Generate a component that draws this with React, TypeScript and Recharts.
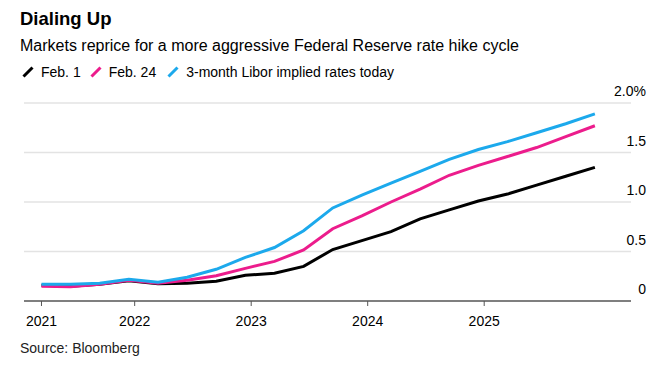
import React from 'react';
import { LineChart, Line, XAxis, YAxis, CartesianGrid } from 'recharts';

// Quarterly 3-month Libor contracts (Mar, Jun, Sep, Dec)
const contracts = [
  'Mar 2021', 'Jun 2021', 'Sep 2021', 'Dec 2021',
  'Mar 2022', 'Jun 2022', 'Sep 2022', 'Dec 2022',
  'Mar 2023', 'Jun 2023', 'Sep 2023', 'Dec 2023',
  'Mar 2024', 'Jun 2024', 'Sep 2024', 'Dec 2024',
  'Mar 2025', 'Jun 2025', 'Sep 2025', 'Dec 2025',
];

const feb1 = [0.16, 0.15, 0.17, 0.205, 0.175, 0.18, 0.2, 0.26, 0.28, 0.35, 0.52, 0.61, 0.7, 0.83, 0.92, 1.01, 1.08, 1.17, 1.26, 1.35];
const feb24 = [0.15, 0.145, 0.17, 0.21, 0.18, 0.21, 0.255, 0.33, 0.4, 0.515, 0.73, 0.86, 1.0, 1.13, 1.27, 1.37, 1.46, 1.55, 1.66, 1.77];
const today = [0.17, 0.17, 0.18, 0.22, 0.19, 0.24, 0.32, 0.44, 0.54, 0.71, 0.94, 1.07, 1.19, 1.31, 1.43, 1.53, 1.61, 1.7, 1.79, 1.89];

const xTicks = [2021.2, 2022, 2023, 2024, 2025];
const yTicks = [0, 0.5, 1.0, 1.5, 2.0];
const yTickLabels = ['0', '0.5', '1.0', '1.5', '2.0%'];

const MONTH_POS: Record<string, number> = { Mar: 0.2, Jun: 0.45, Sep: 0.7, Dec: 0.95 };

const data = contracts.map((c, i) => {
  const [m, y] = c.split(' ');
  return { t: Number(y) + MONTH_POS[m], feb1: feb1[i], feb24: feb24[i], today: today[i] };
});

const FONT = '"Liberation Sans", Arial, Helvetica, sans-serif';
const BLACK = '#000000';
const PINK = '#ec1c8c';
const BLUE = '#1ca9ec';

const YTick = (props: any) => {
  const { y, payload } = props;
  const idx = yTicks.indexOf(payload.value);
  return (
    <text x={646} y={y - 12} textAnchor="end" dominantBaseline="central" fontSize={14} fill="#000" fontFamily={FONT}>
      {yTickLabels[idx]}
    </text>
  );
};

const XTick = (props: any) => {
  const { x, y, payload } = props;
  return (
    <text x={x} y={y + 13} textAnchor="middle" dominantBaseline="central" fontSize={14} fill="#000" fontFamily={FONT}>
      {Math.floor(payload.value)}
    </text>
  );
};

const Slash = ({ color }: { color: string }) => (
  <svg width={12} height={12} style={{ marginRight: 7, verticalAlign: 'middle' }}>
    <line x1={1.5} y1={10.5} x2={10.5} y2={1.5} stroke={color} strokeWidth={3} />
  </svg>
);

export default function App() {
  return (
    <div style={{ position: 'absolute', left: 0, top: 0, width: 652, height: 370, background: '#fff', fontFamily: FONT }}>
      <div style={{ position: 'absolute', left: 20, top: 8, fontSize: 18.5, fontWeight: 700, color: '#000', lineHeight: '22px' }}>
        Dialing Up
      </div>
      <div style={{ position: 'absolute', left: 20, top: 35, fontSize: 16, color: '#000', lineHeight: '22px', whiteSpace: 'nowrap' }}>
        Markets reprice for a more aggressive Federal Reserve rate hike cycle
      </div>
      <div style={{ position: 'absolute', left: 22, top: 62, fontSize: 14, color: '#000', lineHeight: '20px', whiteSpace: 'nowrap', display: 'flex', alignItems: 'center' }}>
        <Slash color={BLACK} />
        <span style={{ marginRight: 9 }}>Feb. 1</span>
        <Slash color={PINK} />
        <span style={{ marginRight: 11 }}>Feb. 24</span>
        <Slash color={BLUE} />
        <span>3-month Libor implied rates today</span>
      </div>

      <div style={{ position: 'absolute', left: 0, top: 0 }}>
        <LineChart width={652} height={370} data={data} margin={{ top: 103, right: 0, bottom: 0, left: 24 }}>
          <CartesianGrid vertical={false} stroke="#e3e3e3" strokeWidth={1.5} horizontalValues={[0.5, 1.0, 1.5, 2.0]} />
          <XAxis
            dataKey="t"
            type="number"
            domain={[2021.05, 2026.26]}
            ticks={xTicks}
            tick={<XTick />}
            axisLine={{ stroke: '#555', strokeWidth: 1.5 }}
            tickLine={{ stroke: '#555', strokeWidth: 1 }}
            tickSize={5}
            height={69}
            interval={0}
          />
          <YAxis
            orientation="right"
            width={21}
            domain={[0, 2]}
            ticks={yTicks}
            tick={<YTick />}
            axisLine={false}
            tickLine={false}
            interval={0}
          />
          <Line type="linear" dataKey="feb1" stroke={BLACK} strokeWidth={3} dot={false} isAnimationActive={false} />
          <Line type="linear" dataKey="feb24" stroke={PINK} strokeWidth={3} dot={false} isAnimationActive={false} />
          <Line type="linear" dataKey="today" stroke={BLUE} strokeWidth={3} dot={false} isAnimationActive={false} />
        </LineChart>
      </div>

      <div style={{ position: 'absolute', left: 20, top: 339, fontSize: 14, color: '#222', lineHeight: '18px' }}>
        Source: Bloomberg
      </div>
    </div>
  );
}
